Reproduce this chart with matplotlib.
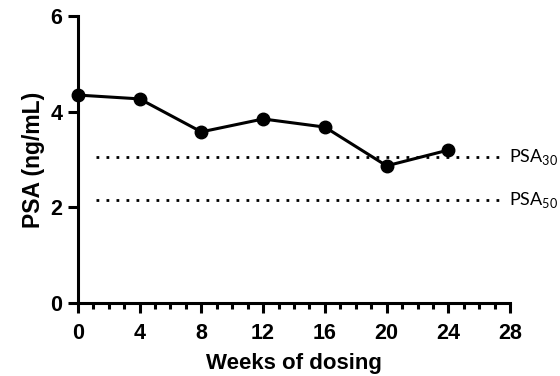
import matplotlib
matplotlib.use("Agg")
import matplotlib.pyplot as plt
from matplotlib.ticker import MultipleLocator

weeks = [0, 4, 8, 12, 16, 20, 24]
psa = [4.35, 4.27, 3.58, 3.85, 3.68, 2.87, 3.20]
psa30 = 3.05
psa50 = 2.15
xticks = [0, 4, 8, 12, 16, 20, 24, 28]
yticks = [0, 2, 4, 6]

plt.rcParams['font.family'] = ['Liberation Sans', 'DejaVu Sans']
plt.rcParams['mathtext.fontset'] = 'custom'
plt.rcParams['mathtext.rm'] = 'Lato'

fig = plt.figure(figsize=(5.6, 3.76), dpi=100)
ax = fig.add_axes([0.139, 0.194, 0.772, 0.763])

ax.plot(weeks, psa, color='black', lw=2.2, marker='o', ms=9, zorder=3, clip_on=False)
ax.plot([1.15, 27.5], [psa30, psa30], color='black', lw=2, ls=(0, (1, 2.6)), zorder=2)
ax.plot([1.15, 27.5], [psa50, psa50], color='black', lw=2, ls=(0, (1, 2.6)), zorder=2)
ax.text(27.95, psa30, r'PSA$_{\mathrm{30}}$', fontsize=13, va='center', ha='left', family=['Lato', 'DejaVu Sans'])
ax.text(27.95, psa50, r'PSA$_{\mathrm{50}}$', fontsize=13, va='center', ha='left', family=['Lato', 'DejaVu Sans'])

ax.set_xlim(0, 28)
ax.set_ylim(0, 6)
ax.set_xticks(xticks)
ax.set_yticks(yticks)
ax.xaxis.set_minor_locator(MultipleLocator(1))
for s in ['top', 'right']:
    ax.spines[s].set_visible(False)
for s in ['left', 'bottom']:
    ax.spines[s].set_linewidth(2.2)
ax.tick_params(axis='both', which='major', length=7, width=2.2, labelsize=15.5, pad=4)
ax.tick_params(axis='x', which='major', pad=7)
ax.tick_params(axis='x', which='minor', length=4.5, width=2.2)
for lab in ax.get_xticklabels() + ax.get_yticklabels():
    lab.set_fontweight('bold')
ax.set_xlabel('Weeks of dosing', fontsize=16, fontweight='bold', labelpad=7)
ax.set_ylabel('PSA (ng/mL)', fontsize=16.5, fontweight='bold', labelpad=4)

fig.savefig('out.png', dpi=100)
